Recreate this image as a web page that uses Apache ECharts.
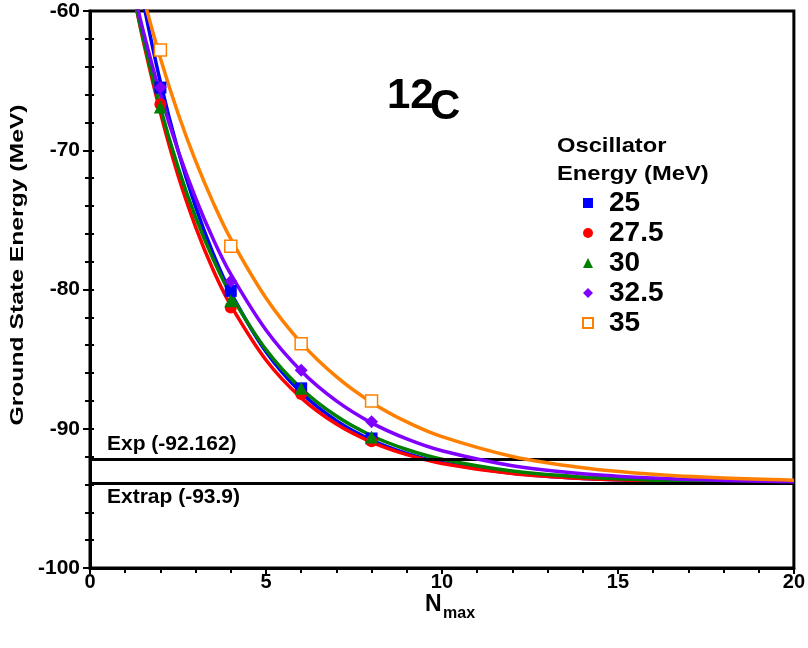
<!DOCTYPE html>
<html><head><meta charset="utf-8">
<script src="https://cdn.jsdelivr.net/npm/echarts@6/dist/echarts.min.js"></script>
<style>html,body{margin:0;padding:0;background:#fff}#c{width:808px;height:648px}</style>
</head><body><div id="c"></div>
<script>
// ---- data ----
const nmaxPoints = [2, 4, 6, 8];
const e25  = [-65.5, -80.1, -87.1, -90.7];
const e275 = [-66.7, -81.3, -87.5, -90.9];
const e30  = [-66.9, -80.8, -87.1, -90.6];
const e325 = [-65.5, -79.4, -85.8, -89.5];
const e35  = [-62.8, -76.9, -83.9, -88.0];

const curveN = [1.2, 1.5, 2, 2.5, 3, 3.5, 4, 5, 6, 7, 8, 9, 10, 12, 14, 16, 18, 20];
const fit25  = [-55.1, -59.2, -65.1, -70.0, -74.05, -77.42, -80.22, -84.47, -87.4, -89.42, -90.81, -91.77, -92.43, -93.2, -93.57, -93.74, -93.83, -93.86];
const fit275 = [-58.3, -62.0, -67.3, -71.8, -75.5, -78.6, -81.14, -85.06, -87.78, -89.66, -90.96, -91.86, -92.49, -93.22, -93.58, -93.74, -93.83, -93.86];
const fit30  = [-58.35, -61.84, -66.92, -71.2, -74.8, -77.82, -80.37, -84.32, -87.11, -89.09, -90.5, -91.49, -92.19, -93.04, -93.47, -93.69, -93.79, -93.85];
const fit325 = [-58.1, -61.3, -66.0, -70.0, -73.43, -76.38, -78.9, -82.91, -85.85, -88.0, -89.58, -90.73, -91.58, -92.65, -93.23, -93.54, -93.71, -93.8];
const fit35  = [-55.8, -58.85, -63.4, -67.34, -70.77, -73.76, -76.37, -80.61, -83.83, -86.26, -88.11, -89.51, -90.57, -91.99, -92.8, -93.27, -93.54, -93.69];

const seriesNames = ['25', '27.5', '30', '32.5', '35'];
const expEnergy = -92.162;
const extrapEnergy = -93.9;
const xTicks = {min: 0, max: 20, step: 5};
const yTicks = {min: -100, max: -60, step: 10};

// ---- styling ----
const F = '"Liberation Sans", Arial, Helvetica, sans-serif';
const colors = ['#0000ff', '#ff0000', '#008000', '#8000ff', '#ff8000'];
const symbols = ['rect', 'circle', 'triangle', 'diamond', 'rect'];
const symSizes = [12, 12, 13, 13, 12];
const pointSets = [e25, e275, e30, e325, e35];
const fitSets = [fit25, fit275, fit30, fit325, fit35];
const drawOrder = [0, 1, 2, 3, 4];

const zip = (xs, ys) => xs.map((x, i) => [x, ys[i]]);

const series = [];
drawOrder.forEach(i => {
  series.push({
    name: 'fit ' + seriesNames[i], type: 'line', data: zip(curveN, fitSets[i]),
    showSymbol: false, smooth: 0.35, clip: true,
    lineStyle: {color: colors[i], width: 3.5}, z: 2 + i, silent: true
  });
});
drawOrder.forEach(i => {
  const open = i === 4;
  series.push({
    name: seriesNames[i], type: 'scatter', data: zip(nmaxPoints, pointSets[i]),
    symbol: symbols[i], symbolSize: symSizes[i], z: 10 + i,
    itemStyle: open ? {color: '#ffffff', borderColor: colors[i], borderWidth: 1.5, opacity: 1}
                    : {color: colors[i], opacity: 1},
    silent: true
  });
});
const lblBase = {show: true, color: '#000', fontSize: 21, fontWeight: 'bold', fontFamily: F};
series.push({
  name: 'refs', type: 'line', data: [], z: 20, silent: true,
  markLine: {
    silent: true, symbol: 'none', animation: false,
    lineStyle: {color: '#000', width: 3, type: 'solid'},
    data: [
      {yAxis: expEnergy, label: Object.assign({}, lblBase, {position: 'insideStartTop', distance: [17, 4], formatter: 'Exp (' + expEnergy + ')'})},
      {yAxis: extrapEnergy, label: Object.assign({}, lblBase, {position: 'insideStartBottom', distance: [17, 4], formatter: 'Extrap (' + extrapEnergy + ')'})}
    ]
  }
});

const chart = echarts.init(document.getElementById('c'), null, {renderer: 'canvas'});
chart.setOption({
  animation: false,
  backgroundColor: '#fff',
  grid: {left: 90, right: 11, top: 11, bottom: 80, show: true, borderColor: '#000', borderWidth: 3, backgroundColor: 'transparent'},
  xAxis: {
    type: 'value', min: xTicks.min, max: xTicks.max, interval: xTicks.step,
    axisLine: {lineStyle: {color: '#000', width: 3}},
    axisTick: {length: 6, lineStyle: {color: '#000', width: 2}},
    minorTick: {show: true, splitNumber: 5, length: 5, lineStyle: {color: '#000', width: 2}},
    splitLine: {show: false},
    axisLabel: {color: '#000', fontSize: 20, fontWeight: 'bold', fontFamily: F, margin: 4}
  },
  yAxis: [{
    type: 'value', min: yTicks.min, max: yTicks.max, interval: yTicks.step,
    axisLine: {show: true, lineStyle: {color: '#000', width: 3}},
    axisTick: {show: true, length: 7, lineStyle: {color: '#000', width: 2}},
    minorTick: {show: true, splitNumber: 5, length: 5, lineStyle: {color: '#000', width: 2}},
    splitLine: {show: false},
    axisLabel: {color: '#000', fontSize: 21, fontWeight: 'bold', fontFamily: F, margin: 10}
  }, {
    type: 'value', min: yTicks.min, max: yTicks.max, interval: yTicks.step, position: 'left', offset: 0,
    axisLine: {show: false},
    axisTick: {show: true, inside: true, length: 4, lineStyle: {color: '#000', width: 2}},
    minorTick: {show: true, splitNumber: 5, length: 4, lineStyle: {color: '#000', width: 2}},
    splitLine: {show: false},
    axisLabel: {show: false}
  }],
  legend: {
    data: seriesNames.map((n, i) => ({name: n, icon: symbols[i]})),
    orient: 'vertical', left: 577, top: 184, itemWidth: 10, itemHeight: 10, itemGap: 2,
    selectedMode: false,
    textStyle: {color: '#000', fontSize: 28, fontWeight: 'bold', fontFamily: F, lineHeight: 28, padding: [0, 0, 0, 11]}
  },
  graphic: [
    {type: 'text', x: 18, y: 265, rotation: Math.PI / 2, scaleX: 1.3,
     style: {text: 'Ground State Energy (MeV)', font: 'bold 19px ' + F, fill: '#000', textAlign: 'center', textVerticalAlign: 'middle'}},
    {type: 'text', x: 387, y: 96, style: {text: '12', font: 'bold 42px ' + F, fill: '#000', textAlign: 'left', textVerticalAlign: 'middle'}},
    {type: 'text', x: 430, y: 107, style: {text: 'C', font: 'bold 42px ' + F, fill: '#000', textAlign: 'left', textVerticalAlign: 'middle'}},
    {type: 'text', x: 557, y: 146, scaleX: 1.13, style: {text: 'Oscillator', font: 'bold 21px ' + F, fill: '#000', textAlign: 'left', textVerticalAlign: 'middle'}},
    {type: 'text', x: 557, y: 174, scaleX: 1.13, style: {text: 'Energy (MeV)', font: 'bold 21px ' + F, fill: '#000', textAlign: 'left', textVerticalAlign: 'middle'}},
    {type: 'text', x: 425, y: 605, style: {text: 'N', font: 'bold 23px ' + F, fill: '#000', textAlign: 'left', textVerticalAlign: 'middle'}},
    {type: 'text', x: 443, y: 614, style: {text: 'max', font: 'bold 16px ' + F, fill: '#000', textAlign: 'left', textVerticalAlign: 'middle'}}
  ],
  series: series
});
</script>
</body></html>
